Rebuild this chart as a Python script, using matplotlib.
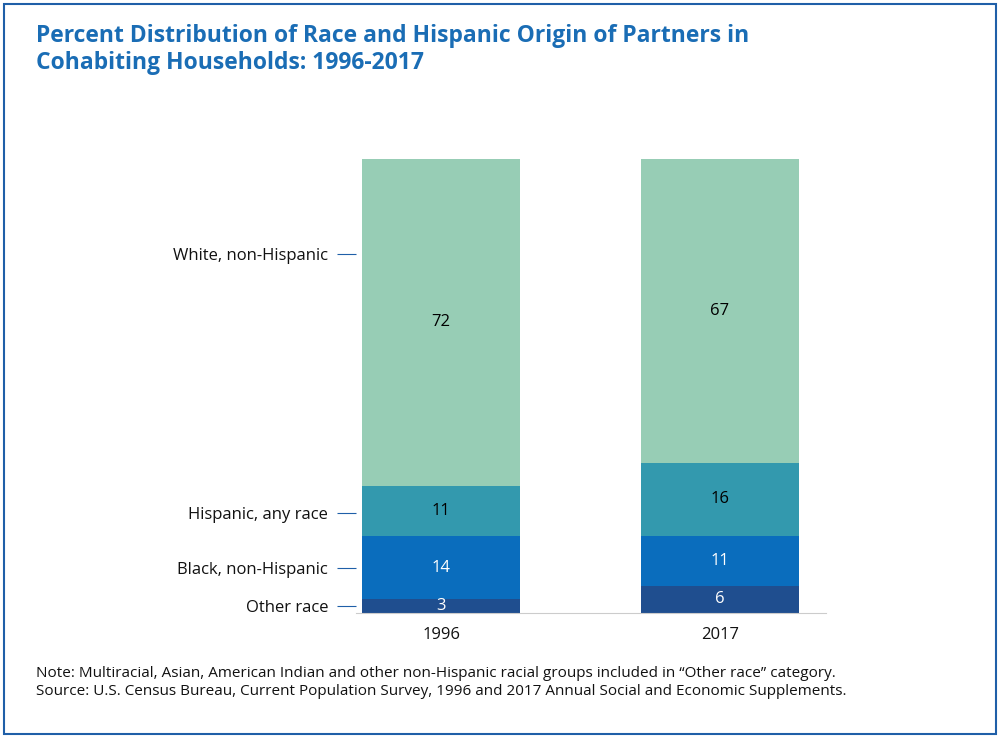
import matplotlib
matplotlib.use("Agg")
import matplotlib.pyplot as plt
from matplotlib.patches import Rectangle

years = ["1996", "2017"]
categories = ["Other race", "Black, non-Hispanic", "Hispanic, any race", "White, non-Hispanic"]
values = {
    "Other race": [3, 6],
    "Black, non-Hispanic": [14, 11],
    "Hispanic, any race": [11, 16],
    "White, non-Hispanic": [72, 67],
}
label_pos = [1.5, 10, 22, 79]
colors = ["#1F4E8F", "#0A6DBD", "#3399AE", "#97CDB5"]
text_colors = ["white", "white", "black", "black"]

plt.rcParams['font.family'] = ['Open Sans', 'DejaVu Sans']
fig = plt.figure(figsize=(10, 7.38), dpi=100)
fig.patches.append(Rectangle((0.004, 0.005), 0.992, 0.99, transform=fig.transFigure,
                             fill=False, edgecolor="#1F5FA8", linewidth=1.5))
ax = fig.add_axes([0.356, 0.1694, 0.47, 0.6152])
xs = [0.181, 0.774]
bottoms = [0, 0]
for cat, c, tc in zip(categories, colors, text_colors):
    v = values[cat]
    ax.bar(xs, v, bottom=bottoms, width=0.336, color=c)
    for x, b, val in zip(xs, bottoms, v):
        ax.text(x, b + val / 2, str(val), ha="center", va="center", fontsize=12, color=tc)
    bottoms = [b + val for b, val in zip(bottoms, v)]
ax.set_xlim(0, 1)
ax.set_ylim(0, 100)
ax.set_xticks(xs)
ax.set_xticklabels(years, fontsize=12, color="#111111")
ax.tick_params(axis="x", length=0, pad=10)
ax.set_yticks(label_pos)
ax.set_yticklabels(categories, fontsize=12, color="#111111")
ax.tick_params(axis="y", length=14, color="#1F5FA8", width=0.8, pad=6)
for s in ["top", "right", "left"]:
    ax.spines[s].set_visible(False)
ax.spines["bottom"].set_color("#CCCCCC")

fig.text(0.036, 0.968, "Percent Distribution of Race and Hispanic Origin of Partners in\nCohabiting Households: 1996-2017",
         ha="left", va="top", fontsize=16.5, fontweight="bold", color="#1A6DB5", linespacing=1.2)
fig.text(0.036, 0.075, "Note: Multiracial, Asian, American Indian and other non-Hispanic racial groups included in \u201cOther race\u201d category.\n"
         "Source: U.S. Census Bureau, Current Population Survey, 1996 and 2017 Annual Social and Economic Supplements.",
         ha="left", va="center", fontsize=11, color="#111111", linespacing=1.3)
fig.savefig("out.png", dpi=100)
